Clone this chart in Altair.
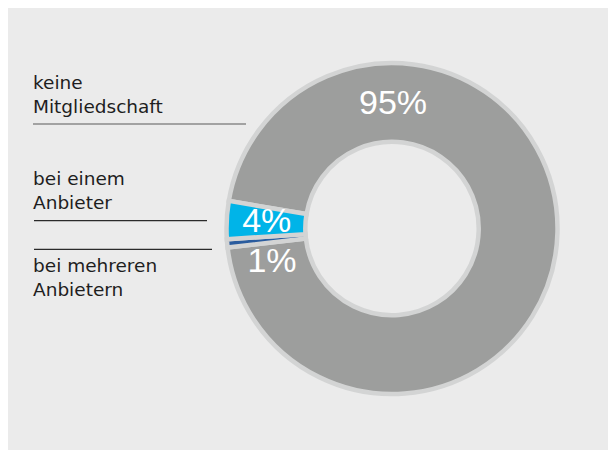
import math
import altair as alt
import pandas as pd

# ---- data ----
categories = ["keine Mitgliedschaft", "bei mehreren Anbietern", "bei einem Anbieter"]
shares = [95.5, 0.8, 3.7]          # slice sizes as drawn
pct_labels = ["95%", "1%", "4%"]   # printed labels
slice_colors = ["#9d9e9d", "#2a5c9e", "#00b4e8"]
legend_lines = [["keine", "Mitgliedschaft"], ["bei einem", "Anbieter"], ["bei mehreren", "Anbietern"]]

df = pd.DataFrame({"cat": categories, "share": shares, "idx": list(range(len(categories)))})
one = pd.DataFrame({"k": [0]})

start = math.radians(279.6)
cx, cy = 384, 220.5

donut = alt.Chart(df).mark_arc(
    outerRadius=165.5, innerRadius=86.7, stroke="#d3d4d4", strokeWidth=4.5
).encode(
    theta=alt.Theta("share:Q", stack=True, scale=alt.Scale(range=[start, start + 2 * math.pi])),
    color=alt.Color("cat:N", scale=alt.Scale(domain=categories, range=slice_colors), legend=None),
    order=alt.Order("idx:Q"),
    x=alt.value(cx),
    y=alt.value(cy),
)

layers = [donut]

# percentage labels (white)
pct_pos = {"95%": (385, 106), "1%": (264, 264.3), "4%": (258.7, 223.7)}
for lab in pct_labels:
    px, py = pct_pos[lab]
    layers.append(
        alt.Chart(one).mark_text(
            text=lab, font="Liberation Sans", fontSize=34, color="#ffffff",
            align="center", baseline="alphabetic"
        ).encode(x=alt.value(px), y=alt.value(py))
    )

# left legend text
text_pos = [(25, 81, 105.3), (25, 177, 201), (25, 264, 288)]
for lines, (tx, y1, y2) in zip(legend_lines, text_pos):
    for line, ty in zip(lines, (y1, y2)):
        layers.append(
            alt.Chart(one).mark_text(
                text=line, font="DejaVu Sans", fontSize=18.5, color="#1e1e1e",
                align="left", baseline="alphabetic"
            ).encode(x=alt.value(tx), y=alt.value(ty))
        )

# leader lines
rules = [(25, 238, 116, "#5a5a5a"), (26, 199, 212.7, "#2a2a2a"), (26, 204, 241.3, "#2a2a2a")]
for x1, x2, ry, rc in rules:
    layers.append(
        alt.Chart(one).mark_rule(color=rc, strokeWidth=1.2).encode(
            x=alt.value(x1), x2=alt.value(x2), y=alt.value(ry)
        )
    )

chart = alt.layer(*layers).properties(
    width=600, height=442,
    autosize=alt.AutoSizeParams(type="fit", contains="padding"),
    padding=0,
    background="#ebebeb",
).configure_view(stroke=None)

chart.save("out.html", embed_options={"renderer": "svg", "actions": False})
